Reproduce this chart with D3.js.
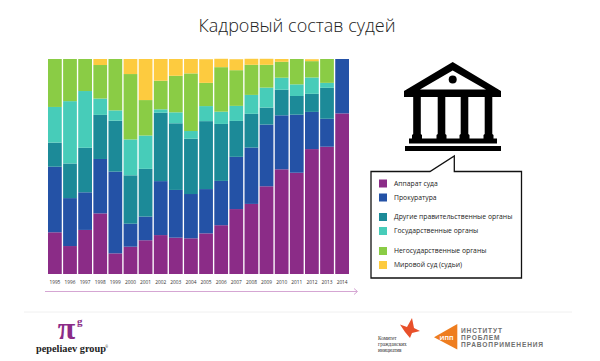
<!DOCTYPE html>
<html>
<head>
<meta charset="utf-8">
<script src="https://d3js.org/d3.v7.min.js"></script>
<style>
    html, body { margin: 0; padding: 0; background: #fff; }
    svg { display: block; }
    text { font-family: "Open Sans", "Noto Sans", sans-serif; }
</style>
</head>
<body>
<div id="chart"></div>
<script>
const title = "Кадровый состав судей";
const years = ["1995","1996","1997","1998","1999","2000","2001","2002","2003","2004",
    "2005","2006","2007","2008","2009","2010","2011","2012","2013","2014"];

// shares in percent
const apparat  = [19.4,13.0,20.5,28.2, 9.6,12.7,15.7,18.1,16.9,16.6,18.9,22.7,30.2,32.6,40.8,48.7,47.1,58.1,59.2,74.7];
const prokur   = [30.5,22.3,17.5,25.3,38.0,10.7,11.0,25.1,22.2,20.6,20.6,20.6,24.3,26.2,28.7,25.1,27.0,17.3,13.0,25.3];
const drugie   = [11.2,16.1,20.7,20.5,23.7,22.5,22.2,31.8,31.0,25.7,31.6,26.5,16.7,15.7, 7.9,11.9, 8.7, 8.4,14.4, 0];
const gosud    = [16.6,29.0,26.4, 7.6, 4.8,16.7,15.5, 1.6, 5.1, 3.6, 7.0, 5.7, 7.0, 8.8, 9.3, 5.6, 5.4, 7.6, 2.3, 0];
const negosud  = [22.3,19.6,14.9,15.6,23.9,30.4,16.5,13.3,17.0,26.8,10.8,20.7,16.6,14.0,10.6, 7.4,11.8, 7.6,11.1, 0];
const mirovoy  = [ 0,   0,   0,   2.8, 0,   7.0,19.1,10.1, 7.8, 6.7,11.0, 3.9, 5.1, 2.8, 2.8, 1.3, 0,   0.9, 0,   0];

const seriesNames = ["Аппарат суда","Прокуратура","Другие правительственные органы",
    "Государственные органы","Негосударственные органы","Мировой суд (судьи)"];
const seriesValues = [apparat, prokur, drugie, gosud, negosud, mirovoy];
const colors = ["#8b2c87","#2452a6","#1c8a98","#47ccb9","#8acc45","#fdcb3f"];

const width = 600, height = 361;
const margin = {top: 59, left: 48, right: 251, bottom: 87};

const svg = d3.select("#chart").append("svg")
    .attr("width", width)
    .attr("height", height);

svg.append("text")
    .attr("x", 297)
    .attr("y", 32)
    .attr("text-anchor", "middle")
    .attr("font-size", 18)
    .attr("font-weight", 300)
    .attr("fill", "#222")
    .text(title);

// stacked bars
let rows = years.map((y, i) => {
    let row = {year: y};
    seriesNames.forEach((s, j) => { row[s] = seriesValues[j][i]; });
    return row;
});

let stacked = d3.stack().keys(seriesNames)(rows);

let x = d3.scaleBand()
    .domain(years)
    .range([margin.left, width - margin.right])
    .paddingInner(0.09)
    .paddingOuter(0);

let y = d3.scaleLinear()
    .domain([0, 100])
    .range([height - margin.bottom, margin.top]);

svg.append("g").selectAll("g")
    .data(stacked)
    .enter()
    .append("g")
    .attr("fill", (d, i) => colors[i])
    .selectAll("rect")
    .data(d => d)
    .enter()
    .append("rect")
    .attr("x", d => x(d.data.year))
    .attr("y", d => y(d[1]))
    .attr("width", x.bandwidth())
    .attr("height", d => y(d[0]) - y(d[1]));

// year labels
let xAxis = d3.axisBottom(x).tickSize(0).tickPadding(7);
let axisGroup = svg.append("g")
    .attr("transform", `translate(0, ${height - margin.bottom})`)
    .call(xAxis);
axisGroup.select(".domain").remove();
axisGroup.selectAll("text")
    .attr("font-size", 4.8)
    .attr("font-family", "'Open Sans', sans-serif")
    .attr("fill", "#333");

// pink arrow under the axis
svg.append("line")
    .attr("x1", 45).attr("x2", 357)
    .attr("y1", 291.5).attr("y2", 291.5)
    .attr("stroke", "#d5a6d3")
    .attr("stroke-width", 1);
svg.append("path")
    .attr("d", "M354 288.5 L357.5 291.5 L354 294.5")
    .attr("fill", "none")
    .attr("stroke", "#d5a6d3")
    .attr("stroke-width", 1);

// building icon
let icon = svg.append("g").attr("fill", "#000");
icon.append("path")
    .attr("fill-rule", "evenodd")
    .attr("d", "M452.7 62 L501 91 L501 97 L404 97 L404 91 Z M452.7 70.5 L420 89.5 L486 89.5 Z");
icon.append("circle").attr("cx", 452.7).attr("cy", 79.5).attr("r", 4);
[417, 441.5, 464.5, 488.5].forEach(cx => {
    icon.append("path")
        .attr("d", `M${cx - 3.8} 97 H${cx + 3.8} V134 L${cx + 5} 135 V139 H${cx - 5} V135 L${cx - 3.8} 134 Z`);
});
icon.append("rect").attr("x", 409).attr("y", 138.5).attr("width", 88).attr("height", 5);
icon.append("rect").attr("x", 405).attr("y", 146).attr("width", 96).attr("height", 5);

// legend callout
svg.append("path")
    .attr("d", "M371 171.5 H430 L454.3 156 V171.5 H521.5 V278 H371 Z")
    .attr("fill", "#fff")
    .attr("stroke", "#111")
    .attr("stroke-width", 1.3);

const legendY = [183.5, 197.5, 217, 231, 251, 265];
let legend = svg.append("g").selectAll("g")
    .data(seriesNames)
    .enter()
    .append("g")
    .attr("transform", (d, i) => `translate(379, ${legendY[i]})`);
legend.append("rect")
    .attr("y", -4).attr("width", 8).attr("height", 8)
    .attr("fill", (d, i) => colors[i]);
legend.append("text")
    .attr("x", 15)
    .attr("y", 2.3)
    .attr("font-size", 6.8)
    .attr("fill", "#222")
    .text(d => d);

// footer
svg.append("line")
    .attr("x1", 24).attr("x2", 572)
    .attr("y1", 312).attr("y2", 312)
    .attr("stroke", "#f0f0f0")
    .attr("stroke-width", 1);

svg.append("text")
    .attr("x", 66.5).attr("y", 338.5)
    .attr("text-anchor", "middle")
    .attr("font-size", 32)
    .attr("font-weight", 700)
    .attr("fill", "#8b2c87")
    .style("font-family", "'Liberation Serif', serif")
    .text("π");
svg.append("text")
    .attr("x", 77).attr("y", 325)
    .attr("font-size", 11)
    .attr("font-weight", 700)
    .attr("fill", "#8b2c87")
    .style("font-family", "'Liberation Serif', serif")
    .text("g");
svg.append("text")
    .attr("x", 36).attr("y", 351.5)
    .attr("font-size", 10.3)
    .attr("font-weight", 700)
    .attr("fill", "#222")
    .style("font-family", "'Liberation Serif', serif")
    .text("pepeliaev group");
svg.append("text")
    .attr("x", 105.5).attr("y", 347.5)
    .attr("font-size", 3)
    .attr("fill", "#222")
    .text("®");

// committee logo
svg.append("path")
    .attr("fill", "#e8502a")
    .attr("d", "M412 318 L414 328 L420 331 L412 333 L410 338 L405 332 L400 324.5 L407 327 Z");
["Комитет", "гражданских", "инициатив"].forEach((t, i) => {
    svg.append("text")
        .attr("x", 378)
        .attr("y", 339.5 + i * 6.3)
        .attr("font-size", 5.2)
        .attr("fill", "#333")
        .style("font-family", "'Liberation Serif', serif")
        .text(t);
});

// institute logo
svg.append("path")
    .attr("fill", "#ee7d1f")
    .attr("d", "M434 337.3 L457.3 324 V349.5 Z");
svg.append("text")
    .attr("x", 446.5).attr("y", 339.5)
    .attr("text-anchor", "middle")
    .attr("font-size", 6)
    .attr("font-weight", 700)
    .attr("fill", "#fff")
    .text("ИПП");
["ИНСТИТУТ", "ПРОБЛЕМ", "ПРАВОПРИМЕНЕНИЯ"].forEach((t, i) => {
    svg.append("text")
        .attr("x", 461)
        .attr("y", 333 + i * 6.9)
        .attr("font-size", 6.6)
        .attr("font-weight", 700)
        .attr("letter-spacing", 0.85)
        .attr("fill", "#6f6f6f")
        .style("font-family", "'Liberation Sans', sans-serif")
        .text(t);
});
</script>
</body>
</html>
